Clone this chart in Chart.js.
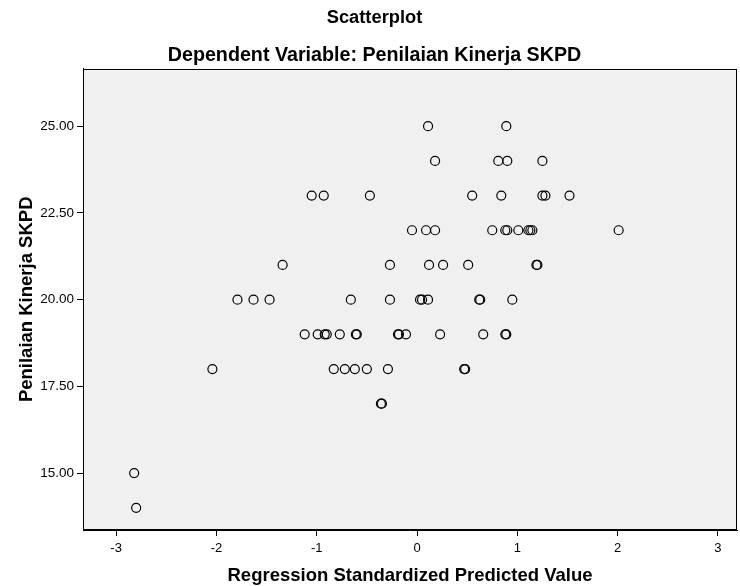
<!DOCTYPE html>
<html lang="id">
<head>
<meta charset="utf-8">
<title>Scatterplot</title>
<style>
  body { margin: 0; background: #fff; }
  canvas { display: block; }
</style>
</head>
<body>
<canvas id="chart" width="740" height="586"></canvas>

<script src="https://cdn.jsdelivr.net/npm/chart.js@4/dist/chart.umd.min.js"></script>
<script>
// values, one row of the plot at a time
var predicted = [
  0.11, 0.89,
  0.18, 0.81, 0.90, 1.25,
  -1.05, -0.93, -0.47, 0.55, 0.84, 1.25, 1.28, 1.52,
  -0.05, 0.09, 0.18, 0.75, 0.88, 0.90, 1.01, 1.11, 1.13, 1.15, 2.01,
  -1.34, -0.27, 0.12, 0.26, 0.51, 1.19, 1.20,
  -1.79, -1.63, -1.47, -0.66, -0.27, 0.03, 0.05, 0.11, 0.62, 0.63, 0.95,
  -1.12, -0.99, -0.92, -0.90, -0.77, -0.60, -0.61, -0.19, -0.18, -0.11, 0.23, 0.66, 0.88, 0.89,
  -2.04, -0.83, -0.72, -0.62, -0.50, -0.29, 0.47, 0.48,
  -0.36, -0.35,
  -2.82,
  -2.80
];
var kinerja = [
  25, 25,
  24, 24, 24, 24,
  23, 23, 23, 23, 23, 23, 23, 23,
  22, 22, 22, 22, 22, 22, 22, 22, 22, 22, 22,
  21, 21, 21, 21, 21, 21, 21,
  20, 20, 20, 20, 20, 20, 20, 20, 20, 20, 20,
  19, 19, 19, 19, 19, 19, 19, 19, 19, 19, 19, 19, 19, 19,
  18, 18, 18, 18, 18, 18, 18, 18,
  17, 17,
  15,
  14
];
var xTicks = [-3, -2, -1, 0, 1, 2, 3];
var yTicks = [15, 17.5, 20, 22.5, 25];

var points = [];
for (var i = 0; i < predicted.length; i++) {
  points.push({x: predicted[i], y: kinerja[i]});
}

var FONT = "'Liberation Sans', Arial, sans-serif";

// grey plot background and black frame like SPSS
var plotFrame = {
  id: 'plotFrame',
  beforeDraw: function(chart) {
    var a = chart.chartArea, c = chart.ctx;
    c.save();
    c.fillStyle = '#f0f0f0';
    c.fillRect(a.left, a.top, a.right - a.left, a.bottom - a.top);
    c.restore();
  },
  afterDraw: function(chart) {
    var a = chart.chartArea, c = chart.ctx;
    c.save();
    c.strokeStyle = '#000';
    c.lineWidth = 1;
    c.strokeRect(Math.round(a.left) + 0.5, Math.round(a.top) + 0.5,
                 Math.round(a.right - a.left) - 1, Math.round(a.bottom - a.top) - 1);
    c.restore();
  }
};

new Chart(document.getElementById('chart').getContext('2d'), {
  type: 'scatter',
  data: {
    datasets: [{
      data: points,
      pointStyle: 'circle',
      pointRadius: 4.5,
      pointHoverRadius: 4.5,
      borderColor: '#000',
      backgroundColor: 'rgba(0,0,0,0)',
      borderWidth: 1.2
    }]
  },
  options: {
    responsive: false,
    animation: false,
    devicePixelRatio: 1,
    layout: { autoPadding: false, padding: { left: 12, right: 3, top: 0, bottom: 0 } },
    plugins: {
      legend: { display: false },
      tooltip: { enabled: false },
      title: {
        display: true,
        text: 'Scatterplot',
        color: '#000',
        font: { family: FONT, size: 18.3, weight: 'bold' },
        padding: { top: 7, bottom: 15 }
      },
      subtitle: {
        display: true,
        text: 'Dependent Variable: Penilaian Kinerja SKPD',
        color: '#000',
        font: { family: FONT, size: 19.7, weight: 'bold' },
        padding: { top: 0, bottom: 1 }
      }
    },
    scales: {
      x: {
        type: 'linear',
        min: -3.33,
        max: 3.19,
        afterBuildTicks: function(scale) {
          scale.ticks = xTicks.map(function(v) { return {value: v}; });
        },
        afterFit: function(scale) {
          scale.height = 56;
          scale.paddingLeft = 0;
          scale.paddingRight = 0;
        },
        ticks: {
          color: '#000',
          font: { family: FONT, size: 13 },
          padding: 5,
          maxRotation: 0,
          callback: function(v) { return String(v); }
        },
        grid: { drawOnChartArea: false, drawTicks: true, tickLength: 6, color: '#000' },
        border: { color: '#000', width: 1 },
        title: {
          display: true,
          text: 'Regression Standardized Predicted Value',
          color: '#000',
          font: { family: FONT, size: 18.5, weight: 'bold' },
          padding: { top: 0, bottom: -1 }
        }
      },
      y: {
        type: 'linear',
        min: 13.36,
        max: 26.66,
        afterBuildTicks: function(scale) {
          scale.ticks = yTicks.map(function(v) { return {value: v}; });
        },
        afterFit: function(scale) { scale.width = 71; },
        ticks: {
          color: '#000',
          font: { family: FONT, size: 13.5 },
          padding: 3,
          callback: function(v) { return v.toFixed(2); }
        },
        grid: { drawOnChartArea: false, drawTicks: true, tickLength: 6, color: '#000' },
        border: { color: '#000', width: 1 },
        title: {
          display: true,
          text: 'Penilaian Kinerja SKPD',
          color: '#000',
          font: { family: FONT, size: 18.5, weight: 'bold' },
          padding: { top: 4, bottom: 0 }
        }
      }
    }
  },
  plugins: [plotFrame]
});
</script>
</body>
</html>
